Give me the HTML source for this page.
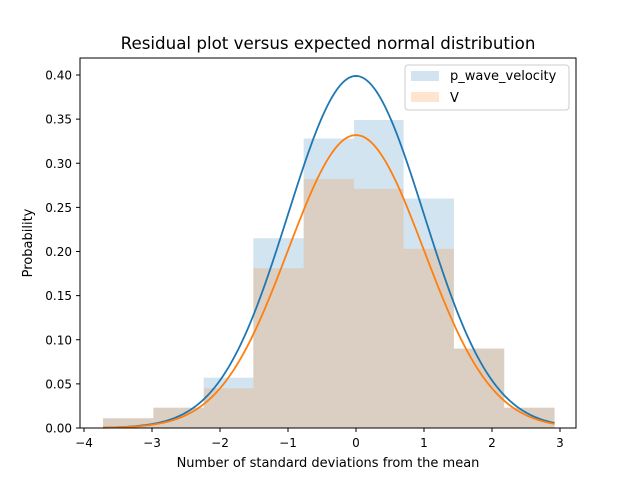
<!DOCTYPE html>
<html><head><meta charset="utf-8"><style>
body{margin:0;background:#fff}
svg{display:block;font-family:"DejaVu Sans","Liberation Sans",sans-serif}
</style></head><body>
<svg id="chart" width="640" height="480">
<rect width="640" height="480" fill="#fff"/>
<g id="bars"></g>
<g id="curves"></g>
<rect x="80" y="58" width="496" height="370" fill="none" stroke="#000" stroke-width="1"/>
<g id="xticks"></g>
<g id="yticks"></g>
<text x="328" y="49" text-anchor="middle" font-size="16.7">Residual plot versus expected normal distribution</text>
<text x="328" y="467" text-anchor="middle" font-size="13">Number of standard deviations from the mean</text>
<text x="32" y="243" text-anchor="middle" font-size="13" transform="rotate(-90 32 243)">Probability</text>
<g>
<rect x="405" y="65" width="164" height="45" rx="3" fill="#fff" fill-opacity="0.8" stroke="#ccc"/>
<g>
<rect x="411" y="71" width="28" height="10" fill="#1f77b4" fill-opacity="0.2"/>
<text x="450" y="80" font-size="13">p_wave_velocity</text></g>
<g>
<rect x="411" y="92" width="28" height="10" fill="#ff7f0e" fill-opacity="0.2"/>
<text x="450" y="102" font-size="13">V</text></g>
</g>
</svg>
<script>
const binEdges=[-3.72,-2.98,-2.24,-1.51,-0.77,-0.03,0.70,1.44,2.18,2.92];
const pwaveHeights=[0.011,0.023,0.057,0.215,0.328,0.349,0.26,0.09,0.023];
const vHeights=[0.011,0.023,0.045,0.181,0.282,0.271,0.203,0.09,0.023];
const pwaveScale=1.0;
const vScale=0.832;
const xTicks=[-4,-3,-2,-1,0,1,2,3];
const yTicks=[0,0.05,0.10,0.15,0.20,0.25,0.30,0.35,0.40];
const NS='http://www.w3.org/2000/svg';
const X=v=>356+68*v, Y=v=>428-882.5*v;
function mk(t,a,p){const e=document.createElementNS(NS,t);for(const k in a)e.setAttribute(k,a[k]);p.appendChild(e);return e;}
const bars=document.getElementById('bars');
[[pwaveHeights,'#1f77b4','p-wave'],[vHeights,'#ff7f0e','v']].forEach(([h,c,n])=>{
 h.forEach((v,i)=>{
  const r=mk('rect',{x:X(binEdges[i]),y:Y(v),width:X(binEdges[i+1])-X(binEdges[i]),height:Y(0)-Y(v),fill:c,'fill-opacity':0.2},bars);
  
  
 });
});
const curves=document.getElementById('curves');
[[pwaveScale,'#1f77b4','p-wave'],[vScale,'#ff7f0e','v']].forEach(([s,c,n])=>{
 let d='';const a=binEdges[0],b=binEdges[binEdges.length-1];
 for(let i=0;i<=200;i++){const x=a+(b-a)*i/200;const y=s*Math.exp(-x*x/2)/Math.sqrt(2*Math.PI);d+=(i?'L':'M')+X(x).toFixed(2)+','+Y(y).toFixed(2);}
 const p=mk('path',{d:d,fill:'none',stroke:c,'stroke-width':1.8},curves);
 
 
});
const xt=document.getElementById('xticks');
xTicks.forEach(v=>{
 mk('line',{x1:X(v),x2:X(v),y1:428,y2:432,stroke:'#000'},xt);
 const t=mk('text',{x:X(v),y:447,'text-anchor':'middle','font-size':12},xt);
 t.textContent=(v<0?'\u2212'+(-v):''+v);
 
 
});
const yt=document.getElementById('yticks');
yTicks.forEach(v=>{
 mk('line',{x1:76,x2:80,y1:Y(v),y2:Y(v),stroke:'#000'},yt);
 const t=mk('text',{x:72,y:Y(v)+4.5,'text-anchor':'end','font-size':12},yt);
 t.textContent=v.toFixed(2);
 
 
});
</script>
</body></html>
